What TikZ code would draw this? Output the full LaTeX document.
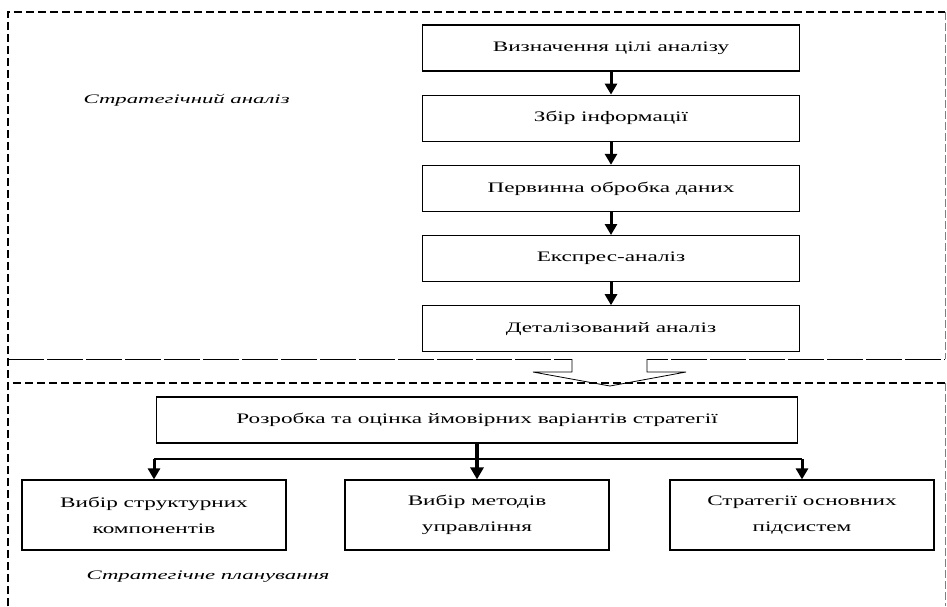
\documentclass[tikz,border=0pt]{standalone}
\usepackage{fontspec}
\setmainfont{Liberation Serif}[FakeStretch=1.6]
\newfontfamily\notefont{Liberation Serif}[FakeStretch=1.75]
\usetikzlibrary{arrows.meta,positioning}

\tikzset{
  stage/.style={draw, line width=1.2pt, minimum width=377pt, minimum height=46pt,
    font=\fontsize{14.5}{16}\selectfont},
  choice/.style={draw, line width=1.2pt, minimum width=264pt, minimum height=70pt,
    align=center, font=\fontsize{14.5}{26}\selectfont},
  flow/.style={line width=3pt, -{Triangle[length=11pt,width=12pt]}},
  bigframe/.style={line width=2pt, dash pattern=on 8pt off 4pt},
  thinframe/.style={line width=0.7pt, dash pattern=on 8pt off 3pt, gray},
  note/.style={anchor=west, font=\notefont\itshape\fontsize{13}{15}\selectfont}
}

\begin{document}
\begin{tikzpicture}[x=1pt, y=-1pt, node distance=23pt]
  \useasboundingbox (0,0) rectangle (947,606);

  % frames
  \draw[bigframe] (8,606) -- (8,12) -- (945,12);
  \draw[thinframe] (945,12) -- (945,359);
  \draw[line width=1pt, dash pattern=on 36pt off 3pt] (8,359) -- (945,359);
  \draw[fill=white, line width=0.8pt] (572,359) -- (572,372) -- (533,372) -- (610,386)
    -- (686,372) -- (647,372) -- (647,359);
  \draw[bigframe] (8,606) -- (8,383) -- (945,383);
  \draw[thinframe] (945,383) -- (945,606);

  % analysis
  \node[note] (sa) at (80,100) {Стратегічний аналіз};
  \node[stage] (s1) at (611,48) {Визначення цілі аналізу};
  \node[stage] (s2) [below=of s1] {Збір інформації};
  \node[stage] (s3) [below=of s2] {Первинна обробка даних};
  \node[stage] (s4) [below=of s3] {Експрес-аналіз};
  \node[stage] (s5) [below=of s4] {Деталізований аналіз};
  \draw[flow] (s1) -- (s2);
  \draw[flow] (s2) -- (s3);
  \draw[flow] (s3) -- (s4);
  \draw[flow] (s4) -- (s5);

  % planning
  \node[stage, minimum width=641pt] (dev) at (477,420) {Розробка та оцінка ймовірних варіантів стратегії};
  \node[choice] (c1) at (154,515) {Вибір структурних\\компонентів};
  \node[choice] (c2) at (477,515) {Вибір методів\\управління};
  \node[choice] (c3) at (802,515) {Стратегії основних\\підсистем};
  \node[note] (sp) at (83,577) {Стратегічне планування};
  \coordinate (bus) at (477,459);
  \draw[line width=1.2pt] (c1.north |- bus) -- (c3.north |- bus);
  \draw[line width=3.6pt, -{Triangle[length=12pt,width=13pt]}] (dev) -- (c2);
  \draw[flow] (c1.north |- bus) -- (c1);
  \draw[flow] (c3.north |- bus) -- (c3);
\end{tikzpicture}
\end{document}
